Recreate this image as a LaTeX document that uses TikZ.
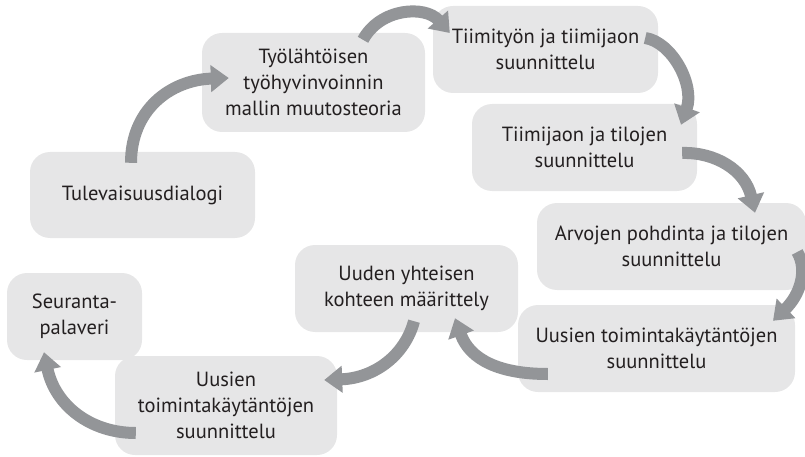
\documentclass[tikz,border=0pt]{standalone}
\usepackage{fontspec}
\setmainfont{PT Sans}
\usetikzlibrary{arrows.meta,calc}
\definecolor{boxgray}{RGB}{230,230,231}
\definecolor{arrowgray}{RGB}{147,149,152}
\definecolor{textdark}{RGB}{35,31,32}

\begin{document}
\begin{tikzpicture}[x=1pt,y=-1pt,
  box/.style={fill=boxgray, rounded corners=20pt, align=center, text=textdark,
    inner sep=0pt, font=\fontsize{20.5}{26}\selectfont},
  flow/.style={line width=12pt, draw=arrowgray,
    -{Triangle[width=26pt,length=18pt]}}]
  \useasboundingbox (0,0) rectangle (805,457);

  % steps
  \node[box, minimum width=225pt, minimum height=86pt] (tul) at (142.5,195) {Tulevaisuusdialogi};
  \node[box, minimum width=223pt, minimum height=99pt] (tml) at (313.5,82.5) {Työlähtöisen\\työhyvinvoinnin\\mallin muutosteoria};
  \node[box, minimum width=225pt, minimum height=87pt] (tsu) at (545.5,49.5) {Tiimityön ja tiimijaon\\suunnittelu};
  \node[box, minimum width=225pt, minimum height=87pt] (tts) at (584.5,147.5) {Tiimijaon ja tilojen\\suunnittelu};
  \node[box, minimum width=269pt, minimum height=87pt] (apt) at (671.5,246.5) {Arvojen pohdinta ja tilojen\\suunnittelu};
  \node[box, minimum width=277pt, minimum height=87pt] (uts) at (656.5,348.5) {Uusien toimintakäytäntöjen\\suunnittelu};
  \node[box, minimum width=223pt, minimum height=87pt] (uyk) at (406.5,288.5) {Uuden yhteisen\\kohteen määrittely};
  \node[box, minimum width=135pt, minimum height=87pt] (spa) at (74.5,316.5) {Seuranta-\\palaveri};
  \node[box, minimum width=222pt, minimum height=99pt] (utk) at (226,405.5) {Uusien\\toimintakäytäntöjen\\suunnittelu};

  % arrows
  \draw[flow] ($(tul.north)+(-11.5,11)$) .. controls (131,110) and (170,80) .. ($(tml.west)+(27,-4.5)$);
  \draw[flow] ($(tml.north)+(49.5,7)$) .. controls (380,8) and (425,5) .. ($(tsu.west)+(17,-16.5)$);
  \draw[flow] ($(tsu.east)+(-13,-11.5)$) .. controls (672,42) and (695,85) .. ($(tts.north)+(96.5,21)$);
  \draw[flow] ($(tts.east)+(-15,5.5)$) .. controls (715,152) and (745,170) .. ($(apt.north)+(83.5,10)$);
  \draw[flow] ($(apt.east)+(-9,5.5)$) .. controls (808,270) and (800,295) .. ($(uts.north)+(116.5,16)$);
  \draw[flow] ($(uts.west)+(30,25.5)$) .. controls (500,374) and (470,360) .. ($(uyk.south)+(48.5,-14)$);
  \draw[flow] ($(uyk.south)+(7.5,-11)$) .. controls (405,355) and (375,378) .. ($(utk.east)+(-13,-25.5)$);
  \draw[flow] ($(utk.west)+(21,27.5)$) .. controls (90,433) and (55,405) .. ($(spa.south)+(-30.5,-8)$);
\end{tikzpicture}
\end{document}
